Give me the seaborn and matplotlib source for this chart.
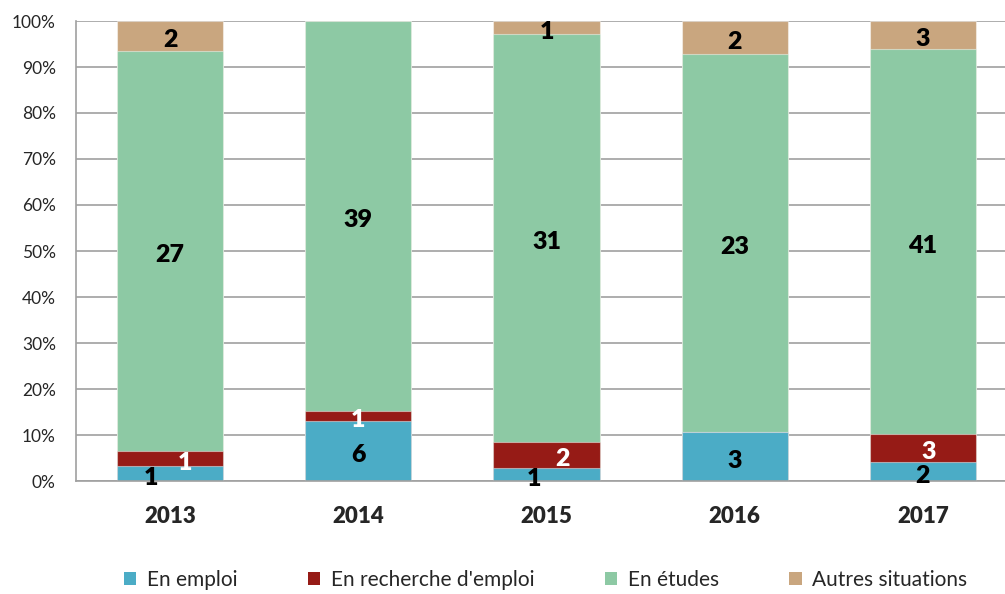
import matplotlib
matplotlib.use("Agg")
import matplotlib.pyplot as plt
import matplotlib.patches as mpatches
from matplotlib.ticker import PercentFormatter, FixedLocator
import numpy as np
import pandas as pd
import seaborn as sns

# counts
years = ["2013", "2014", "2015", "2016", "2017"]
en_emploi = [1, 6, 1, 3, 2]
en_recherche = [1, 1, 2, 0, 3]
en_etudes = [27, 39, 31, 23, 41]
autres = [2, 0, 1, 2, 3]

series_names = ["En emploi", "En recherche d'emploi", "En études", "Autres situations"]
colors = ["#4BACC6", "#961B16", "#8DC9A4", "#C9A67F"]
label_colors = ["black", "white", "black", "black"]

# small sideways nudges (points) for labels that overlap in thin segments
nudge_x = {
    ("2013", 0): -14, ("2013", 1): 11,
    ("2015", 0): -9, ("2015", 1): 11.5,
    ("2017", 1): 4,
}

sns.set_style("white")
plt.rcParams["font.family"] = ["Lato", "DejaVu Sans"]

counts = pd.DataFrame(
    {"year": years, series_names[0]: en_emploi, series_names[1]: en_recherche,
     series_names[2]: en_etudes, series_names[3]: autres}
).set_index("year")
pct = counts.div(counts.sum(axis=1), axis=0) * 100
cum = pct.cumsum(axis=1)

fig = plt.figure(figsize=(10.05, 5.94), dpi=100)
ax = fig.add_axes([76 / 1005, 113 / 594, 941 / 1005, 460 / 594])

grid_col = "#A0A0A0"
bar_w = 0.565

# draw the stacks back to front using cumulative heights
for i in range(len(series_names) - 1, -1, -1):
    sns.barplot(x=years, y=cum[series_names[i]].values, color=colors[i],
                saturation=1, width=bar_w, errorbar=None, ax=ax,
                edgecolor=(1, 1, 1, 0.45), linewidth=0.8, zorder=2)

# value labels
for j, yr in enumerate(years):
    for i, name in enumerate(series_names):
        v = counts.loc[yr, name]
        if v == 0:
            continue
        mid = cum.loc[yr, name] - pct.loc[yr, name] / 2
        ax.annotate(str(v), (j, mid), xytext=(nudge_x.get((yr, i), 0), -3),
                    textcoords="offset points", ha="center", va="center",
                    fontsize=18, fontweight="heavy", color=label_colors[i], zorder=5)

ax.set_ylim(0, 100)
ax.set_xlim(-0.5, 4.5)
ax.yaxis.set_major_locator(FixedLocator(np.arange(0, 101, 10)))
ax.yaxis.set_major_formatter(PercentFormatter(100, decimals=0))
ax.grid(axis="y", color=grid_col, linewidth=1.2)
ax.set_axisbelow(True)

ax.xaxis.set_minor_locator(FixedLocator([0.5, 1.5, 2.5, 3.5]))
ax.tick_params(axis="x", which="major", length=0, pad=18, labelsize=16)
ax.tick_params(axis="x", which="minor", length=7, width=1.2, color=grid_col, direction="out")
ax.tick_params(axis="y", length=4.5, width=1.2, color=grid_col, pad=10, labelsize=12.5)
for lab in ax.get_xticklabels():
    lab.set_fontweight("heavy")

for s in ["top", "right"]:
    ax.spines[s].set_visible(False)
for s in ["left", "bottom"]:
    ax.spines[s].set_color(grid_col)
    ax.spines[s].set_linewidth(1.2)
ax.set_xlabel("")
ax.set_ylabel("")

handles = [mpatches.Patch(facecolor=c, edgecolor="none") for c in colors]
fig.legend(handles, series_names, loc="center", bbox_to_anchor=(0.543, 0.024),
           ncol=4, frameon=False, fontsize=15, handlelength=0.58, handleheight=0.58,
           handletextpad=0.5, columnspacing=3.4)

fig.savefig("out.png", dpi=100)
